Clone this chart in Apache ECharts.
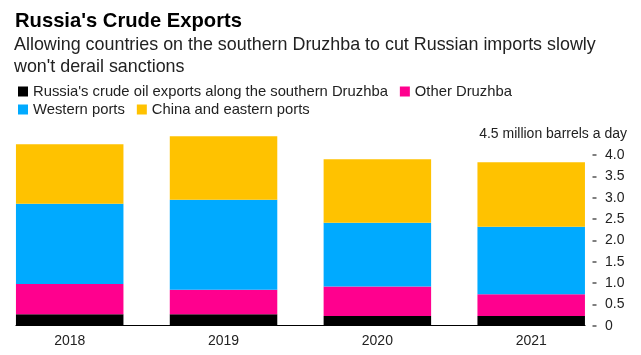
<!DOCTYPE html>
<html>
<head>
<meta charset="utf-8">
<script src="https://cdn.jsdelivr.net/npm/echarts@6/dist/echarts.min.js"></script>
<style>html,body{margin:0;padding:0;background:#fff;}#c{width:641px;height:355px;}</style>
</head>
<body>
<div id="c"></div>
<script>
var categories = ['2018', '2019', '2020', '2021'];
var southernDruzhba = [0.27, 0.27, 0.23, 0.23];
var otherDruzhba = [0.71, 0.57, 0.69, 0.51];
var westernPorts = [1.88, 2.11, 1.49, 1.58];
var chinaEastern = [1.39, 1.49, 1.49, 1.51];
var seriesNames = ["Russia's crude oil exports along the southern Druzhba", 'Other Druzhba', 'Western ports', 'China and eastern ports'];
var yTickValues = [0, 0.5, 1.0, 1.5, 2.0, 2.5, 3.0, 3.5, 4.0];
var yTickLabels = ['0', '0.5', '1.0', '1.5', '2.0', '2.5', '3.0', '3.5', '4.0', '4.5 million barrels a day'];

var colors = ['#000000', '#FF008E', '#00AAFF', '#FFC200'];
var font = '"Liberation Sans", Arial, sans-serif';

var chart = echarts.init(document.getElementById('c'), null, {renderer: 'canvas'});
var values = [southernDruzhba, otherDruzhba, westernPorts, chinaEastern];

var plotTop = 133.7, plotBottom = 29.3;

var option = {
  backgroundColor: '#fff',
  animation: false,
  title: [
    {text: "Russia's Crude Exports", left: 10, top: 4, padding: 5,
     textStyle: {fontFamily: font, fontSize: 20.2, fontWeight: 'bold', color: '#000', lineHeight: 24}},
    {text: "Allowing countries on the southern Druzhba to cut Russian imports slowly\nwon't derail sanctions", left: 9, top: 29, padding: 5,
     textStyle: {fontFamily: font, fontSize: 17.9, fontWeight: 'normal', color: '#222', lineHeight: 22}}
  ],
  legend: [
    {data: [seriesNames[0], seriesNames[1]], left: 18, top: 84, padding: 0, itemGap: 12, itemWidth: 10, itemHeight: 10,
     icon: 'rect', textStyle: {fontFamily: font, fontSize: 14.8, color: '#222'}},
    {data: [seriesNames[2], seriesNames[3]], left: 18, top: 102, padding: 0, itemGap: 12, itemWidth: 10, itemHeight: 10,
     icon: 'rect', textStyle: {fontFamily: font, fontSize: 14.8, color: '#222'}}
  ],
  grid: [
    // bars: category points from first bar centre to last bar centre
    {left: 69.7, right: 109.8, top: plotTop, bottom: plotBottom},
    // baseline: from left edge of first bar to right edge of last bar
    {left: 16, right: 56, top: plotTop, bottom: plotBottom},
    // value axis ticks and labels
    {left: 16, right: 48.5, top: plotTop, bottom: plotBottom}
  ],
  xAxis: [
    {type: 'category', gridIndex: 0, data: categories, boundaryGap: false,
     axisLine: {show: false}, axisTick: {show: false}, splitLine: {show: false},
     axisLabel: {fontFamily: font, fontSize: 14, color: '#222', margin: 8}},
    {type: 'category', gridIndex: 1, data: categories,
     axisLine: {show: true, lineStyle: {color: '#000', width: 1.2}},
     axisTick: {show: false}, axisLabel: {show: false}, splitLine: {show: false}},
    {type: 'category', gridIndex: 2, data: categories, show: false}
  ],
  yAxis: [
    {type: 'value', gridIndex: 0, min: 0, max: 4.5, interval: 0.5, show: false, splitLine: {show: false}},
    {type: 'value', gridIndex: 1, min: 0, max: 4.5, interval: 0.5, show: false, splitLine: {show: false}},
    {type: 'value', gridIndex: 2, min: 0, max: 4.5, interval: 0.5, position: 'right',
     splitLine: {show: false},
     axisLine: {show: false},
     axisTick: {show: true, length: 4, customValues: yTickValues, lineStyle: {color: '#555', width: 1.5}},
     axisLabel: {
       align: 'right', margin: 34.5, fontFamily: font, fontSize: 14, color: '#222',
       formatter: function (v) {
         var i = Math.round(v / 0.5);
         if (i === yTickLabels.length - 1) return '{u|' + yTickLabels[i] + '}';
         return '{v|' + yTickLabels[i] + '}';
       },
       rich: {
         v: {width: 22, align: 'left', fontFamily: font, fontSize: 14, color: '#222'},
         u: {fontFamily: font, fontSize: 14, color: '#222'}
       }
     }}
  ],
  series: values.map(function (d, i) {
    return {
      name: seriesNames[i], type: 'bar', stack: 'total', xAxisIndex: 0, yAxisIndex: 0,
      barWidth: 107.5, clip: false, data: d, itemStyle: {color: colors[i]}
    };
  })
};
chart.setOption(option);
</script>
</body>
</html>
